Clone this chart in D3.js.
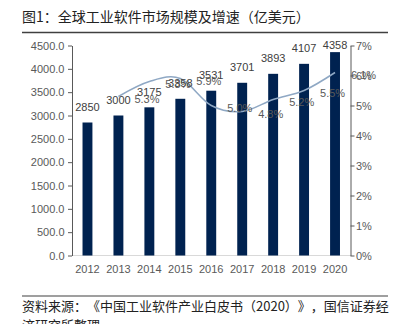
<!DOCTYPE html>
<html>
<head>
<meta charset="utf-8">
<script src="https://cdn.jsdelivr.net/npm/d3@7"></script>
<style>
    body { margin: 0; background: #fff; }
    svg { display: block; }
    svg text { text-spacing-trim: space-all; }
    .axis text { font-family: "Liberation Sans", Arial, sans-serif; font-size: 11px; fill: #595959; }
    .axis path, .axis line { stroke: #595959; }
</style>
</head>
<body>
<div id="chart"></div>
<script>
// data
var years = ["2012", "2013", "2014", "2015", "2016", "2017", "2018", "2019", "2020"];
var marketSize = [2850, 3000, 3175, 3358, 3531, 3701, 3893, 4107, 4358];
var growthRate = [null, 5.3, 5.8, 5.9, 5.0, 4.8, 5.2, 5.5, 6.1];
var leftTicks = [0, 500, 1000, 1500, 2000, 2500, 3000, 3500, 4000, 4500];
var rightTicks = [0, 1, 2, 3, 4, 5, 6, 7];
var titleText = "图1：全球工业软件市场规模及增速（亿美元）";
var sourceLines = ["资料来源：《中国工业软件产业白皮书（2020）》，国信证券经", "济研究所整理"];

(function () {
    var width = 397, height = 324;
    var plot = { left: 72, right: 350.5, top: 45.5, bottom: 255.5 };
    var cjk = "'Noto Sans CJK SC', 'Noto Sans', sans-serif";
    var latin = "'Liberation Sans', Arial, sans-serif";

    var svg = d3.select("#chart").append("svg")
        .attr("width", width)
        .attr("height", height);

    // title + rule
    svg.append("text")
        .attr("x", 22)
        .attr("y", 22)
        .attr("font-family", cjk)
        .attr("font-size", "14px")
        .attr("fill", "#222")
        .text(titleText);
    svg.append("line")
        .attr("x1", 22).attr("x2", 388)
        .attr("y1", 32.5).attr("y2", 32.5)
        .attr("stroke", "#404040")
        .attr("stroke-width", 1.5);

    var x = d3.scaleBand()
        .domain(years)
        .range([plot.left, plot.right])
        .paddingInner(0.68)
        .paddingOuter(0.34);
    var yLeft = d3.scaleLinear().domain([0, 4500]).range([plot.bottom, plot.top]);
    var yRight = d3.scaleLinear().domain([0, 7]).range([plot.bottom, plot.top]);

    // category baseline
    svg.append("line")
        .attr("x1", plot.left).attr("x2", plot.right)
        .attr("y1", plot.bottom).attr("y2", plot.bottom)
        .attr("stroke", "#d9d9d9");

    // bars
    svg.selectAll("rect.bar").data(marketSize)
        .enter().append("rect")
        .attr("class", "bar")
        .attr("x", (d, i) => x(years[i]))
        .attr("width", x.bandwidth())
        .attr("y", d => yLeft(d))
        .attr("height", d => plot.bottom - yLeft(d))
        .attr("fill", "#002250");

    // growth line
    var line = d3.line()
        .defined(d => d != null)
        .x((d, i) => x(years[i]) + x.bandwidth() / 2)
        .y(d => yRight(d))
        .curve(d3.curveCardinal);
    svg.append("path")
        .datum(growthRate)
        .attr("fill", "none")
        .attr("stroke", "#8fa8c4")
        .attr("stroke-width", 1.5)
        .attr("d", line);

    // bar labels
    svg.selectAll("text.barLabel").data(marketSize)
        .enter().append("text")
        .attr("class", "barLabel")
        .attr("x", (d, i) => x(years[i]) + x.bandwidth() / 2)
        .attr("y", d => Math.max(yLeft(d) - 11.5, 49))
        .attr("text-anchor", "middle")
        .attr("font-family", latin)
        .attr("font-size", "11px")
        .attr("fill", "#404040")
        .text(d => d);

    // growth labels
    svg.selectAll("text.rateLabel").data(growthRate.filter(d => d != null))
        .enter().append("text")
        .attr("class", "rateLabel")
        .attr("x", (d, i) => x(years[i + 1]) + x.bandwidth() / 2 + 16)
        .attr("y", d => yRight(d) + 6)
        .attr("font-family", latin)
        .attr("font-size", "11px")
        .attr("fill", "#595959")
        .text(d => d.toFixed(1) + "%");

    // axes
    var leftAxis = d3.axisLeft(yLeft)
        .tickValues(leftTicks)
        .tickFormat(d3.format(".1f"))
        .tickSize(4)
        .tickSizeOuter(0)
        .tickPadding(3.5);
    svg.append("g")
        .attr("class", "axis")
        .attr("transform", "translate(" + plot.left + ",0)")
        .call(leftAxis);

    var rightAxis = d3.axisRight(yRight)
        .tickValues(rightTicks)
        .tickFormat(d => d + "%")
        .tickSize(4)
        .tickSizeOuter(0)
        .tickPadding(1.5);
    svg.append("g")
        .attr("class", "axis")
        .attr("transform", "translate(" + plot.right + ",0)")
        .call(rightAxis);

    svg.selectAll("text.year").data(years)
        .enter().append("text")
        .attr("class", "year")
        .attr("x", d => x(d) + x.bandwidth() / 2)
        .attr("y", 273)
        .attr("text-anchor", "middle")
        .attr("font-family", latin)
        .attr("font-size", "11px")
        .attr("fill", "#595959")
        .text(d => d);

    // source note
    svg.append("line")
        .attr("x1", 22).attr("x2", 388)
        .attr("y1", 296).attr("y2", 296)
        .attr("stroke", "#7f7f7f")
        .attr("stroke-width", 1.5);
    svg.selectAll("text.source").data(sourceLines)
        .enter().append("text")
        .attr("class", "source")
        .attr("x", 22)
        .attr("y", (d, i) => 310.5 + i * 19.5)
        .attr("font-family", cjk)
        .attr("font-size", "13px")
        .attr("fill", "#222")
        .text(d => d);
}());
</script>
</body>
</html>
